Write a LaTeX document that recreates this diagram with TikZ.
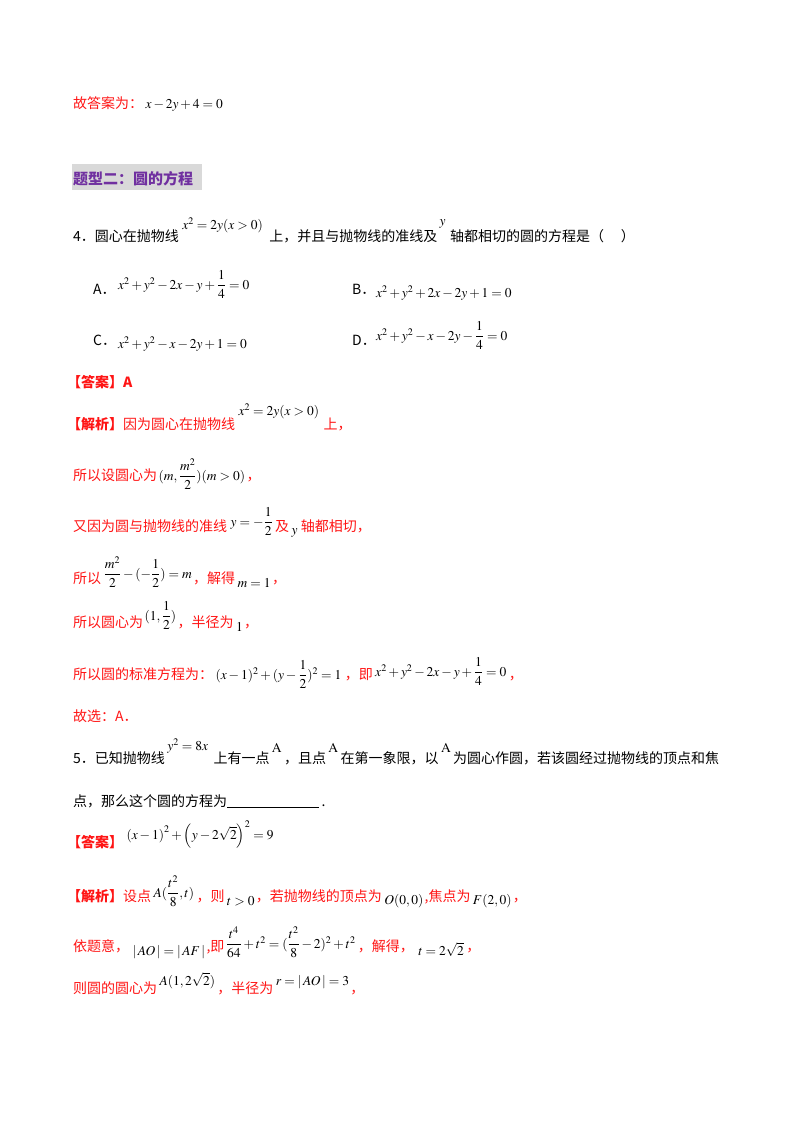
\documentclass[tikz,border=0pt]{standalone}
\usepackage{amsmath}
\usepackage{mathptmx}
\usepackage{fontspec}
\newfontfamily\cjk{Noto Sans CJK SC}
\definecolor{ansred}{RGB}{255,20,20}
\definecolor{hpurple}{RGB}{112,48,160}
\definecolor{hbg}{RGB}{217,217,217}
\begin{document}
\begin{tikzpicture}[x=1pt,y=-1pt,
  t/.style={anchor=base west,inner sep=0pt,font=\fontsize{14}{16}\selectfont\cjk},
  r/.style={t,text=ansred},
  m/.style={anchor=base west,inner sep=0pt,font=\fontsize{13.5}{15}\selectfont}]
\useasboundingbox (0,0) rectangle (800,1132);
% previous answer
\node[r] (a0) at (73,108) {故答案为：};
\node[m] (a0m) at ([xshift=2]a0.base east) {$x-2y+4=0$};
% heading
\fill[hbg] (72,164) rectangle (202,190);
\node[t,text=hpurple,font=\fontsize{15}{16}\selectfont\cjk\bfseries] (h) at (73,184) {题型二：圆的方程};
% question 4
\node[t] (q4a) at (73,241) {4．圆心在抛物线};
\node[m] (q4m) at ([xshift=3,yshift=12]q4a.base east) {$x^2=2y(x>0)$};
\node[t] (q4b) at ([xshift=6,yshift=-12]q4m.base east) {上，并且与抛物线的准线及};
\node[m] (q4y) at ([xshift=2,yshift=16]q4b.base east) {$y$};
\node[t] (q4c) at ([xshift=4,yshift=-16]q4y.base east) {轴都相切的圆的方程是（\hspace{1.2em}）};
\node[t] (oA) at (93,294) {A．};
\node[m] (oAm) at (118,289) {$x^2+y^2-2x-y+\dfrac{1}{4}=0$};
\node[t] (oB) at (352,294) {B．};
\node[m] (oBm) at (376,297) {$x^2+y^2+2x-2y+1=0$};
\node[t] (oC) at (93,345) {C．};
\node[m] (oCm) at (118,348) {$x^2+y^2-x-2y+1=0$};
\node[t] (oD) at (352,345) {D．};
\node[m] (oDm) at (376,340) {$x^2+y^2-x-2y-\dfrac{1}{4}=0$};
% answer
\node[r,font=\fontsize{14}{16}\selectfont\cjk\bfseries] (ans4) at (67,387) {【答案】A};
\node[r] (j1) at (67,429) {\textbf{【解析】}因为圆心在抛物线};
\node[m] (j1m) at ([xshift=3,yshift=14]j1.base east) {$x^2=2y(x>0)$};
\node[r] (j1b) at ([xshift=4,yshift=-14]j1m.base east) {上，};
\node[r] (j2) at (73,480) {所以设圆心为};
\node[m] (j2m) at ([xshift=1]j2.base east) {$(m,\dfrac{m^2}{2})(m>0)$};
\node[r] (j2b) at ([xshift=1]j2m.base east) {，};
\node[r] (j3) at (73,531) {又因为圆与抛物线的准线};
\node[m] (j3m) at ([xshift=3,yshift=5]j3.base east) {$y=-\dfrac{1}{2}$};
\node[r] (j3b) at ([xshift=2,yshift=-5]j3m.base east) {及};
\node[m] (j3y) at ([xshift=2,yshift=-3]j3b.base east) {$y$};
\node[r] (j3c) at ([xshift=3,yshift=3]j3y.base east) {轴都相切，};
\node[r] (j4) at (73,583) {所以};
\node[m] (j4m) at ([xshift=2,yshift=5]j4.base east) {$\dfrac{m^2}{2}-(-\dfrac{1}{2})=m$};
\node[r] (j4b) at ([xshift=1,yshift=-5]j4m.base east) {，解得};
\node[m] (j4m2) at ([xshift=2,yshift=-4]j4b.base east) {$m=1$};
\node[r] (j4c) at ([xshift=1,yshift=4]j4m2.base east) {，};
\node[r] (j5) at (73,627) {所以圆心为};
\node[m] (j5m) at ([xshift=1,yshift=7]j5.base east) {$(1,\dfrac{1}{2})$};
\node[r] (j5b) at ([xshift=1,yshift=-7]j5m.base east) {，半径为};
\node[m] (j5m2) at ([xshift=2,yshift=-4]j5b.base east) {$1$};
\node[r] (j5c) at ([xshift=1,yshift=4]j5m2.base east) {，};
\node[r] (j6) at (73,679) {所以圆的标准方程为：};
\node[m] (j6m) at ([xshift=2]j6.base east) {$(x-1)^2+(y-\dfrac{1}{2})^2=1$};
\node[r] (j6b) at ([xshift=3]j6m.base east) {，即};
\node[m] (j6m2) at ([xshift=2,yshift=3]j6b.base east) {$x^2+y^2-2x-y+\dfrac{1}{4}=0$};
\node[r] (j6c) at ([xshift=2,yshift=-3]j6m2.base east) {，};
\node[r] (j7) at (73,721) {故选：A．};
% question 5
\node[t] (q5a) at (73,763) {5．已知抛物线};
\node[m] (q5m) at ([xshift=2,yshift=13]q5a.base east) {$y^2=8x$};
\node[t] (q5b) at ([xshift=5,yshift=-13]q5m.base east) {上有一点};
\node[m] (q5A) at ([xshift=2,yshift=11]q5b.base east) {$\mathrm{A}$};
\node[t] (q5c) at ([xshift=2,yshift=-11]q5A.base east) {，且点};
\node[m] (q5A2) at ([xshift=2,yshift=11]q5c.base east) {$\mathrm{A}$};
\node[t] (q5d) at ([xshift=2,yshift=-11]q5A2.base east) {在第一象限，以};
\node[m] (q5A3) at ([xshift=2,yshift=11]q5d.base east) {$\mathrm{A}$};
\node[t] (q5e) at ([xshift=2,yshift=-11]q5A3.base east) {为圆心作圆，若该圆经过抛物线的顶点和焦};
\node[t] (q5f) at (73,806) {点，那么这个圆的方程为};
\coordinate (ul1) at ([yshift=-1]q5f.base east);
\coordinate (ul2) at ([xshift=92]ul1);
\draw[line width=0.8pt] (ul1) -- (ul2);
\node[t] (q5g) at ([xshift=2,yshift=1]ul2) {.};
\node[r,font=\fontsize{14}{16}\selectfont\cjk\bfseries] (ans5) at (67,847) {【答案】};
\node[m] (ans5m) at ([xshift=3,yshift=8]ans5.base east) {$\left(x-1\right)^2+\left(y-2\sqrt{2}\right)^2=9$};
\node[r] (k1) at (67,901) {\textbf{【解析】}设点};
\node[m] (k1m) at ([xshift=2,yshift=4]k1.base east) {$A(\dfrac{t^2}{8},t)$};
\node[r] (k1b) at ([xshift=2,yshift=-4]k1m.base east) {，则};
\node[m] (k1m2) at ([xshift=2,yshift=-4]k1b.base east) {$t>0$};
\node[r] (k1c) at ([xshift=1,yshift=4]k1m2.base east) {，若抛物线的顶点为};
\node[m] (k1m3) at ([xshift=2,yshift=-3]k1c.base east) {$O(0,0)$};
\node[r] (k1d) at ([xshift=1,yshift=3]k1m3.base east) {,焦点为};
\node[m] (k1m4) at ([xshift=2,yshift=-3]k1d.base east) {$F(2,0)$};
\node[r] (k1e) at ([xshift=1,yshift=3]k1m4.base east) {，};
\node[r] (k2) at (73,951) {依题意，};
\node[m] (k2m) at ([xshift=3,yshift=-4]k2.base east) {$|\,AO\,|=|\,AF\,|$};
\node[r] (k2b) at ([xshift=1,yshift=4]k2m.base east) {,即};
\node[m] (k2m2) at ([xshift=1,yshift=3]k2b.base east) {$\dfrac{t^4}{64}+t^2=(\dfrac{t^2}{8}-2)^2+t^2$};
\node[r] (k2c) at ([xshift=2,yshift=-3]k2m2.base east) {，解得，};
\node[m] (k2m3) at ([xshift=4,yshift=-4]k2c.base east) {$t=2\sqrt{2}$};
\node[r] (k2d) at ([xshift=2,yshift=4]k2m3.base east) {，};
\node[r] (k3) at (73,993) {则圆的圆心为};
\node[m] (k3m) at ([xshift=2,yshift=8]k3.base east) {$A(1,2\sqrt{2})$};
\node[r] (k3b) at ([xshift=2,yshift=-8]k3m.base east) {，半径为};
\node[m] (k3m2) at ([xshift=2,yshift=8]k3b.base east) {$r=|\,AO\,|=3$};
\node[r] (k3c) at ([xshift=1,yshift=-8]k3m2.base east) {，};
\end{tikzpicture}
\end{document}
